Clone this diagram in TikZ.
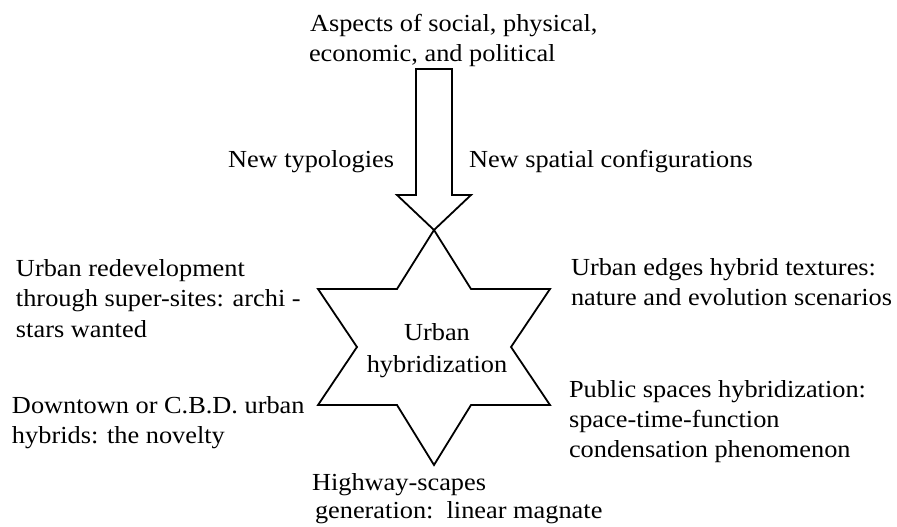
\documentclass[tikz,border=0pt]{standalone}
\usepackage{fontspec}
\setmainfont{Liberation Serif}
\begin{document}
\begin{tikzpicture}[x=1pt,y=-1pt,
  lbl/.style={anchor=base west,inner sep=0pt,outer sep=0pt,xscale=1.075,font=\fontsize{24.5}{30}\selectfont},
  clbl/.style={anchor=base,inner sep=0pt,outer sep=0pt,xscale=1.075,font=\fontsize{24.5}{30}\selectfont},
  outline/.style={draw=black,line width=1.8pt,line join=miter}]
\useasboundingbox (0,0) rectangle (897,527);
% arrow
\coordinate (tip) at (434,230);
\draw[outline] (416,69) -- (452,69) -- (452,195) -- (471,195) -- (tip) -- (397,195) -- (416,195) -- cycle;
% star
\coordinate (s1) at (434,230);
\coordinate (s2) at (471,289);
\coordinate (s3) at (550,289);
\coordinate (s4) at (511,347);
\coordinate (s5) at (550,405);
\coordinate (s6) at (471,405);
\coordinate (s7) at (434,465);
\coordinate (s8) at (397,405);
\coordinate (s9) at (318,405);
\coordinate (s10) at (357,347);
\coordinate (s11) at (318,289);
\coordinate (s12) at (397,289);
\draw[outline] (s1) -- (s2) -- (s3) -- (s4) -- (s5) -- (s6) -- (s7) -- (s8) -- (s9) -- (s10) -- (s11) -- (s12) -- cycle;
\node[clbl] (c1) at (437,340) {Urban};
\node[clbl] (c2) at (437,372) {hybridization};
% texts
\node[lbl] (a1) at (310,32) {Aspects of social, physical,};
\node[lbl] (a2) at (309,62) {economic, and political};
\node[lbl] (t1) at (228,167) {New typologies};
\node[lbl] (t2) at (469,167) {New spatial configurations};
\node[lbl] (l1) at (16,276) {Urban redevelopment};
\node[lbl] (l2) at (16,306) {through super-sites: archi -};
\node[lbl] (l3) at (16,337) {stars wanted};
\node[lbl] (r1) at (571,275) {Urban edges hybrid textures:};
\node[lbl] (r2) at (571,305) {nature and evolution scenarios};
\node[lbl] (d1) at (12,413) {Downtown or C.B.D. urban};
\node[lbl] (d2) at (12,443) {hybrids: the novelty};
\node[lbl] (p1) at (569,397) {Public spaces hybridization:};
\node[lbl] (p2) at (569,427) {space-time-function};
\node[lbl] (p3) at (569,457) {condensation phenomenon};
\node[lbl] (h1) at (312,490) {Highway-scapes};
\node[lbl] (h2) at (315,518) {generation:\ \ linear magnate};
\end{tikzpicture}
\end{document}
